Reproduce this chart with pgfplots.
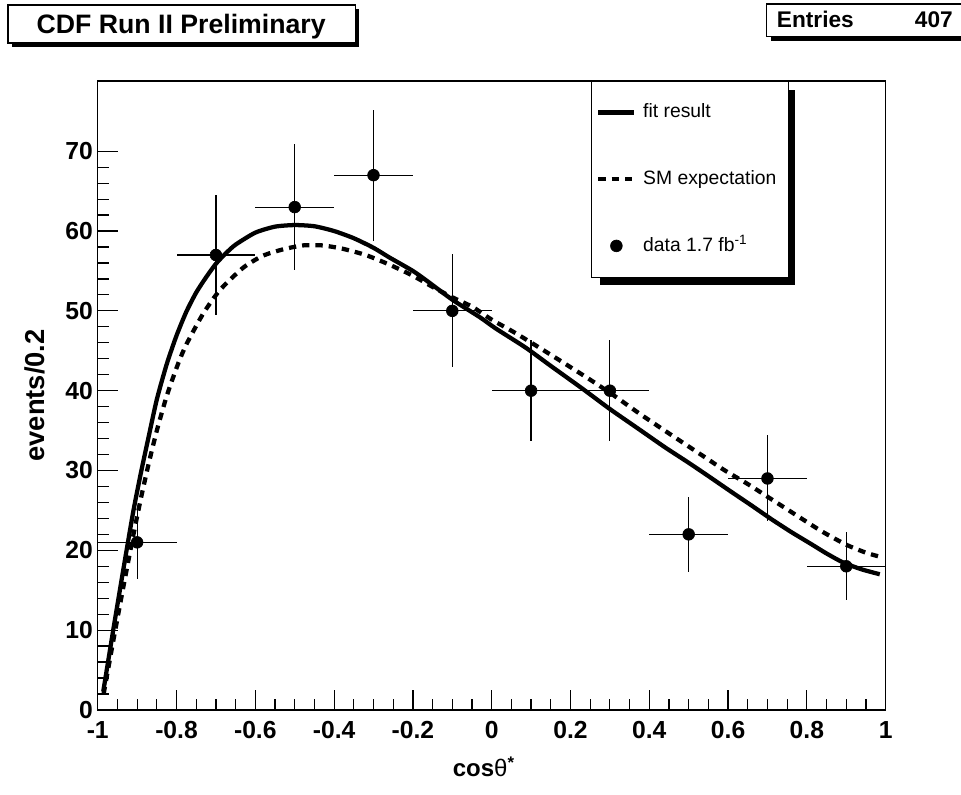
\documentclass[border=0pt]{standalone}
\usepackage{pgfplots}
\pgfplotsset{compat=1.18}
\usepackage{pgfplotstable}
\usepackage{fontspec}
\setmainfont{Liberation Sans}

\pgfplotsset{
  lineleg/.style={legend image code/.code={\draw[##1] (0pt,0pt) -- (27pt,0pt);}},
  markleg/.style={legend image code/.code={\path[draw=none,fill=none] (0pt,0pt) rectangle (27pt,0.1pt); \draw[##1] plot coordinates {(13.5pt,0pt)};}},
}

\pgfplotstableread{
x ex y ey
-0.9 0.1 21 4.58
-0.7 0.1 57 7.55
-0.5 0.1 63 7.94
-0.3 0.1 67 8.19
-0.1 0.1 50 7.07
0.1 0.1 40 6.32
0.3 0.1 40 6.32
0.5 0.1 22 4.69
0.7 0.1 29 5.39
0.9 0.1 18 4.24
}\datatable

\pgfplotstableread{
x y
-0.986 2.3
-0.96 10.2
-0.935 17.6
-0.91 24.8
-0.89 29.8
-0.87 34.4
-0.85 38.9
-0.825 43.3
-0.80 46.9
-0.775 49.9
-0.75 52.3
-0.725 54.2
-0.70 55.9
-0.675 57.2
-0.65 58.3
-0.60 59.8
-0.55 60.55
-0.50 60.75
-0.45 60.6
-0.40 60.0
-0.35 59.1
-0.30 57.9
-0.26 56.7
-0.20 55.0
-0.16 53.6
-0.10 51.4
-0.03 49.2
0.01 47.8
0.086 45.4
0.15 43.1
0.229 40.3
0.30 37.7
0.373 35.2
0.44 32.9
0.499 31.0
0.55 29.3
0.609 27.3
0.66 25.6
0.710 23.9
0.76 22.3
0.812 20.75
0.85 19.6
0.893 18.45
0.94 17.6
0.985 17.0
}\fittable

\pgfplotstableread{
x y
-0.985 2.0
-0.96 8.8
-0.935 15.4
-0.91 21.8
-0.89 26.6
-0.87 31.0
-0.85 35.0
-0.83 38.5
-0.817 40.5
-0.795 43.5
-0.775 45.8
-0.733 49.6
-0.69 52.6
-0.631 55.4
-0.581 56.9
-0.53 57.7
-0.479 58.2
-0.43 58.2
-0.38 57.8
-0.32 57.0
-0.26 55.8
-0.20 54.4
-0.15 53.0
-0.10 51.7
-0.049 50.5
0.00 48.9
0.061 47.2
0.15 44.5
0.246 41.5
0.31 39.4
0.373 37.2
0.43 35.3
0.491 33.3
0.54 31.7
0.592 30.0
0.65 28.3
0.710 26.4
0.77 24.5
0.837 22.4
0.90 20.7
0.95 19.7
0.985 19.2
}\smtable

\begin{document}
\begin{tikzpicture}
\useasboundingbox (-73.3pt,-63.75pt) rectangle (647.5pt,532.5pt);
\begin{axis}[
  at={(0pt,0pt)}, anchor=south west,
  width=591pt, height=471.75pt, scale only axis,
  xmin=-1, xmax=1, ymin=0, ymax=78.8,
  xtick={-1,-0.8,-0.6,-0.4,-0.2,0,0.2,0.4,0.6,0.8,1},
  ytick={0,10,20,30,40,50,60,70},
  minor x tick num=3, minor y tick num=4,
  tick pos=left, tick align=inside,
  major tick length=15pt, minor tick length=8.5pt,
  every tick/.style={black, line width=0.9pt},
  axis line style={line width=1.1pt},
  /pgf/number format/assume math mode=true,
  ticklabel style={font=\fontsize{18.5}{20}\selectfont\bfseries},
  yticklabel style={inner sep=0pt, xshift=-3.5pt},
  xticklabel style={inner sep=0pt, yshift=-8.5pt},
  xlabel={\bfseries cos{\mdseries θ}\textsuperscript{*}},
  xlabel style={at={(rel axis cs:0.49,0)}, anchor=base, yshift=-50pt, font=\fontsize{18}{20}\selectfont},
  ylabel={\bfseries events/0.2},
  ylabel style={at={(rel axis cs:-0.0795,0.5)}, anchor=center, rotate=0, font=\fontsize{20.5}{22}\selectfont},
  legend style={name=leg, at={(rel axis cs:0.6256,1)}, anchor=north west, draw=black, fill=white,
    font=\fontsize{14.5}{16}\selectfont, row sep=36pt, column sep=5pt, inner xsep=4pt, inner ysep=16.5pt,
    nodes={inner sep=0pt, text height=11pt, text depth=3pt, anchor=west}},
  legend cell align=left,
]
\addplot[black, line width=3.2pt, smooth, tension=0.4, line join=round, lineleg] table[x=x,y=y] {\fittable};
\addlegendentry{fit result}
\addplot[black, line width=3.2pt, smooth, tension=0.4, dash pattern=on 5.5pt off 4.5pt, lineleg] table[x=x,y=y] {\smtable};
\addlegendentry{SM expectation\hspace*{5pt}}
\addplot[black, only marks, mark=*, mark size=4.4pt, mark options={fill=black, line width=0.5pt}, markleg,
  error bars/.cd, x dir=both, x explicit, y dir=both, y explicit, error mark=none,
  error bar style={line width=0.9pt, black}]
  table[x=x, y=y, x error=ex, y error=ey] {\datatable};
\addlegendentry{data 1.7 fb\textsuperscript{-1}}
\end{axis}
% legend shadow
\fill[black] ([yshift=-7pt]leg.north east) rectangle ([xshift=4.5pt,yshift=-5.5pt]leg.south east);
\fill[black] ([xshift=7pt]leg.south west) rectangle ([xshift=4.5pt,yshift=-5.5pt]leg.south east);
% title box
\fill[black] (-64.3pt,497.25pt) rectangle (196pt,525.75pt);
\draw[fill=white, line width=0.8pt] (-67.3pt,500.25pt) rectangle (193pt,528.75pt);
\node[font=\fontsize{20}{22}\selectfont\bfseries, anchor=base, inner sep=0pt] at (62.6pt,507.5pt) {CDF Run II Preliminary};
% entries box
\fill[black] (504.75pt,502pt) rectangle (660pt,526.5pt);
\draw[fill=white, line width=0.8pt] (501.75pt,505pt) rectangle (660pt,529.5pt);
\node[font=\fontsize{17}{19}\selectfont\bfseries, anchor=base west, inner sep=0pt] at (509.25pt,511.5pt) {Entries};
\node[font=\fontsize{17}{19}\selectfont\bfseries, anchor=base east, inner sep=0pt] at (641.5pt,511.5pt) {407};
\end{tikzpicture}
\end{document}
